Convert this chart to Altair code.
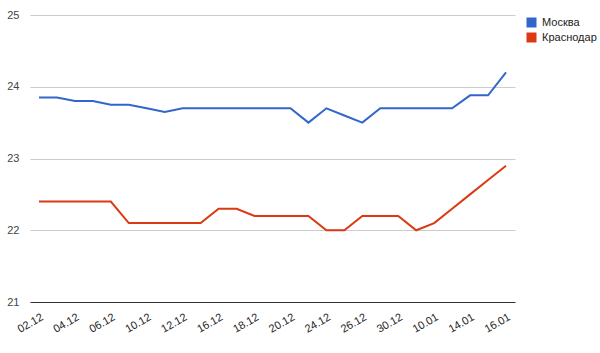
import altair as alt
import pandas as pd

dates = ["02.12", "03.12", "04.12", "05.12", "06.12", "08.12", "10.12", "11.12",
         "12.12", "14.12", "16.12", "17.12", "18.12", "19.12", "20.12", "22.12",
         "24.12", "25.12", "26.12", "28.12", "30.12", "03.01", "10.01", "12.01",
         "14.01", "15.01", "16.01"]
shown_labels = ["02.12", "04.12", "06.12", "10.12", "12.12", "16.12", "18.12",
                "20.12", "24.12", "26.12", "30.12", "10.01", "14.01", "16.01"]
moskva = [23.85, 23.85, 23.8, 23.8, 23.75, 23.75, 23.7, 23.65, 23.7, 23.7,
          23.7, 23.7, 23.7, 23.7, 23.7, 23.5, 23.7, 23.6, 23.5, 23.7,
          23.7, 23.7, 23.7, 23.7, 23.88, 23.88, 24.2]
krasnodar = [22.4, 22.4, 22.4, 22.4, 22.4, 22.1, 22.1, 22.1, 22.1, 22.1,
             22.3, 22.3, 22.2, 22.2, 22.2, 22.2, 22.0, 22.0, 22.2, 22.2,
             22.2, 22.0, 22.1, 22.3, 22.5, 22.7, 22.9]
series = ["Москва", "Краснодар"]
colors = ["#3366cc", "#dc3912"]
y_ticks = [21, 22, 23, 24, 25]

rows = []
for i, d in enumerate(dates):
    rows.append({"date": d, "idx": i, "city": series[0], "value": moskva[i]})
    rows.append({"date": d, "idx": i, "city": series[1], "value": krasnodar[i]})
df = pd.DataFrame(rows)

font = "Arial, Liberation Sans, sans-serif"

x_enc = alt.X("date:O", sort=dates,
              scale=alt.Scale(type="point", padding=0.5),
              axis=alt.Axis(title=None, values=shown_labels, labelAngle=-30,
                            labelAlign="right", labelBaseline="top",
                            labelPadding=9, ticks=False, domain=True,
                            domainColor="#333333", domainWidth=1,
                            labelFont=font, labelFontSize=11,
                            labelColor="#222222", grid=False))
y_enc = alt.Y("value:Q", scale=alt.Scale(domain=[21, 25], nice=False, zero=False),
              axis=alt.Axis(title=None, values=y_ticks, ticks=False, domain=False,
                            gridColor="#cccccc", labelPadding=11,
                            labelFont=font, labelFontSize=11,
                            labelColor="#444444"))
color_scale = alt.Scale(domain=series, range=colors)
legend = alt.Legend(title=None, orient="none",
                    legendX=496, legendY=2,
                    symbolType="square", symbolSize=100,
                    symbolStrokeWidth=0, symbolOpacity=1,
                    labelFont=font, labelFontSize=11,
                    labelColor="#222222", rowPadding=3,
                    labelOffset=5)

base = alt.Chart(df)

legend_pts = base.mark_square(size=0, filled=True).encode(
    x=x_enc, y=y_enc,
    color=alt.Color("city:N", sort=series, scale=color_scale, legend=legend),
)

lines = base.mark_line(strokeWidth=2).encode(
    x=x_enc, y=y_enc,
    color=alt.Color("city:N", sort=series, scale=color_scale, legend=legend),
    detail="city:N",
    order="idx:Q",
)

chart = alt.layer(legend_pts, lines).properties(
    width=485, height=287,
    padding={"left": 30, "top": 15, "right": 85, "bottom": 51},
    autosize=alt.AutoSizeParams(type="none"),
).configure_view(stroke=None)

chart.save("out.html", embed_options={"renderer": "svg", "actions": False})
